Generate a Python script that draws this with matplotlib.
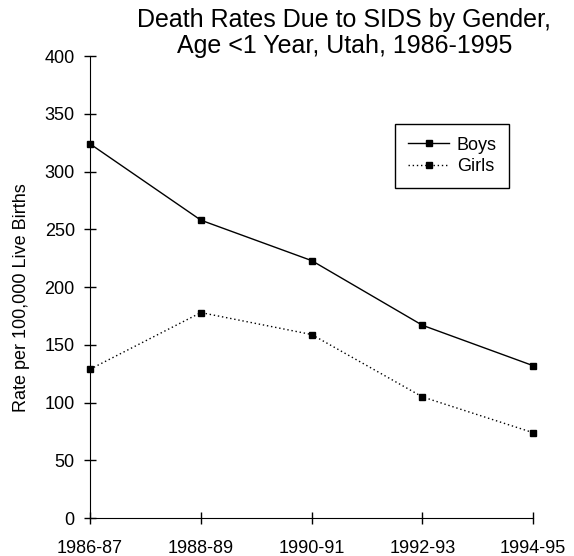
import matplotlib.pyplot as plt

plt.rcParams["font.family"] = ["Liberation Sans", "DejaVu Sans"]

periods = ["1986-87", "1988-89", "1990-91", "1992-93", "1994-95"]
boys = [324, 258, 223, 167, 132]
girls = [129, 178, 159, 105, 74]

fig = plt.figure(figsize=(5.74, 5.56), dpi=100)
ax = fig.add_axes([0.157, 0.068, 0.772, 0.831])

x = range(len(periods))
ax.plot(x, boys, color="black", linestyle="-", linewidth=1, marker="s",
        markersize=5, label="Boys", clip_on=False, zorder=3)
ax.plot(x, girls, color="black", linestyle=(0, (1, 2)), linewidth=1, marker="s",
        markersize=5, label="Girls", clip_on=False, zorder=3)

ax.set_xlim(0, len(periods) - 1)
ax.set_ylim(0, 400)
ax.set_xticks(list(x))
ax.set_xticklabels(periods)
ax.set_yticks(range(0, 401, 50))

ax.spines["top"].set_visible(False)
ax.spines["right"].set_visible(False)
ax.tick_params(direction="inout", length=8, width=1, labelsize=13)
ax.tick_params(axis="x", pad=12)
ax.tick_params(axis="y", pad=7)

ax.set_ylabel("Rate per 100,000 Live Births", fontsize=13)
ax.yaxis.set_label_coords(-0.135, 0.477)

fig.text(0.6, 0.985, "Death Rates Due to SIDS by Gender,\nAge <1 Year, Utah, 1986-1995",
         ha="center", va="top", fontsize=18, linespacing=1.1)

leg = ax.legend(loc="upper right", bbox_to_anchor=(0.946, 0.853), fontsize=13,
                fancybox=False, edgecolor="black", framealpha=1,
                handlelength=2.3, handletextpad=0.4, borderpad=0.7,
                labelspacing=0.25, borderaxespad=0)
leg.get_frame().set_linewidth(1)

fig.savefig("out.png", dpi=100)
